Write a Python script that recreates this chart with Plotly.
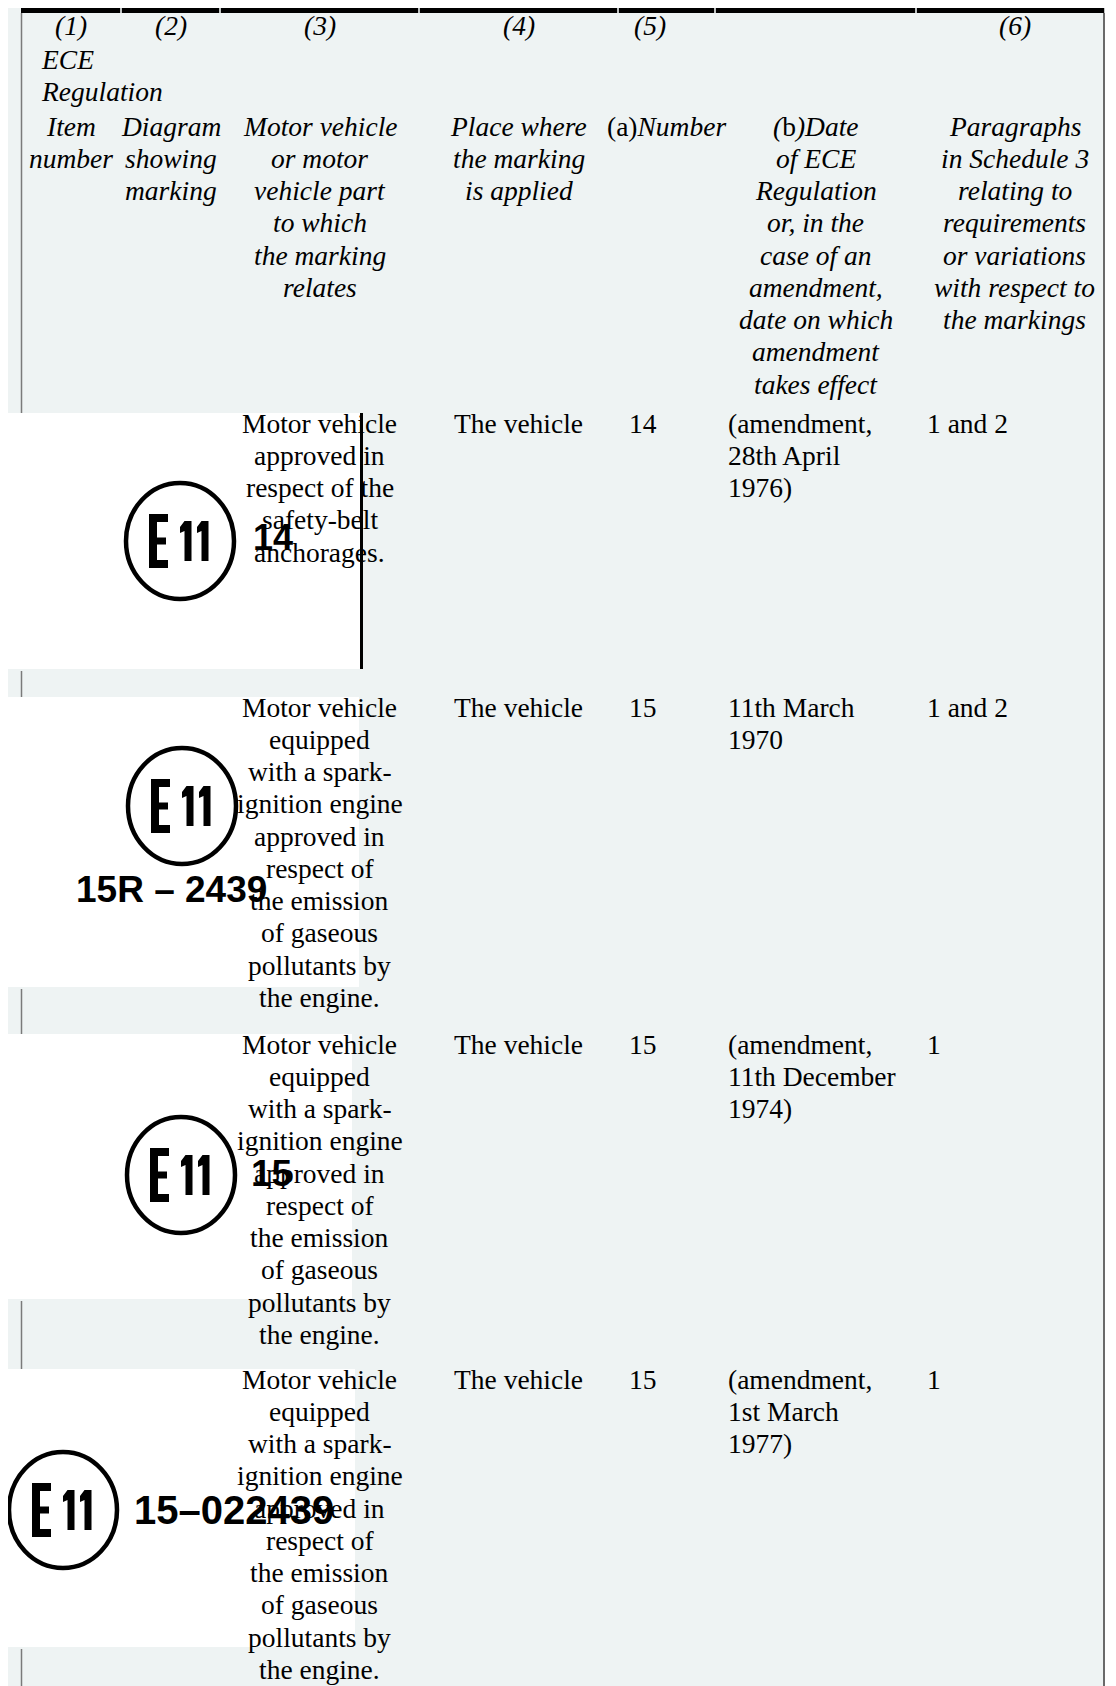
import plotly.graph_objects as go

# ---------------- data (table contents) ----------------
header_numbers = ["(1)", "(2)", "(3)", "(4)", "(5)", "(6)"]
header_group = ["ECE", "Regulation"]
header_item = ["Item", "number"]
header_diagram = ["Diagram", "showing", "marking"]
header_part = ["Motor vehicle", "or motor", "vehicle part", "to which", "the marking", "relates"]
header_place = ["Place where", "the marking", "is applied"]
header_number = ["(a)Number"]
header_date = ["(b)Date", "of ECE", "Regulation", "or, in the", "case of an",
               "amendment,", "date on which", "amendment", "takes effect"]
header_paras = ["Paragraphs", "in Schedule 3", "relating to", "requirements",
                "or variations", "with respect to", "the markings"]

emission_part = ["Motor vehicle", "equipped", "with a spark-", "ignition engine", "approved in",
                 "respect of", "the emission", "of gaseous", "pollutants by", "the engine."]
vehicle_parts = [
    ["Motor vehicle", "approved in", "respect of the", "safety-belt", "anchorages."],
    emission_part,
    emission_part,
    emission_part,
]
places = ["The vehicle", "The vehicle", "The vehicle", "The vehicle"]
reg_numbers = ["14", "15", "15", "15"]
reg_dates = [
    ["(amendment,", "28th April", "1976)"],
    ["11th March", "1970"],
    ["(amendment,", "11th December", "1974)"],
    ["(amendment,", "1st March", "1977)"],
]
schedule_paras = ["1 and 2", "1 and 2", "1", "1"]
marking_numbers = ["14", "15R – 2439", "15", "15–022439"]

# ---------------- layout / style constants ----------------
W, H = 1116, 1686
OFF = 8          # page body margin: figure starts 8px from the window edge
RIGHT = 1105     # right table border (last column edge that stays visible)
BG = "#eef3f3"
SERIF = "'Liberation Serif', 'Times New Roman', serif"
MARK_FONT = "'Liberation Sans', Arial, sans-serif"
FS = 27.5
LH = 32.25

col_edges = [21, 121, 220, 419, 618, 715, 916, 1113]
col_centers = [(col_edges[i] + col_edges[i + 1]) / 2 for i in range(7)]
num_x = [col_centers[0], col_centers[1], col_centers[2], col_centers[3], 650, col_centers[6]]

row_tops = [413, 697, 1034, 1369]
img_bottoms = [669, 987, 1299, 1647]
img_rights = [361, 359, 352, 355]
circles = [(180, 541), (182, 806), (181, 1175), (63, 1510)]
RX, RY = 54, 58
num_pos = [(273, 537), (171, 889), (271, 1173), (234, 1510)]
num_size = [36, 37, 37, 40]

Y_TOP, Y_BOT = OFF, H

shapes = []
ann = []


def add_text(x, y, s, anchor="center", italic=False, font=SERIF, size=FS, weight="normal"):
    ann.append(dict(x=x, y=y, xref="x", yref="y", text=s, showarrow=False,
                    xanchor=anchor, yanchor="middle",
                    font=dict(family=font, size=size, color="#000000",
                              style="italic" if italic else "normal", weight=weight)))


def rect(x0, y0, x1, y1, color, layer="below"):
    shapes.append(dict(type="rect", xref="x", yref="y", x0=x0, y0=y0, x1=x1, y1=y1,
                       fillcolor=color, line=dict(width=0), layer=layer))


def vline(x, y0, y1, color, width):
    shapes.append(dict(type="line", xref="x", yref="y", x0=x, x1=x, y0=y0, y1=y1,
                       line=dict(color=color, width=width), layer="above"))


# background
rect(6, Y_TOP, RIGHT, Y_BOT, BG)
# top thick border segmented at column boundaries
edges = col_edges[:-1] + [RIGHT]
for i in range(7):
    rect(edges[i] + (0.8 if i else 0), Y_TOP, edges[i + 1] - 0.8, Y_TOP + 5,
         "#000000", layer="above")
# left border in header, right border
vline(21.5, Y_TOP + 5, row_tops[0], "#7a7a7a", 1.5)
vline(RIGHT - 1, Y_TOP + 5, Y_BOT, "#6a6a6a", 2)

# ---------------- header ----------------
for x, s in zip(num_x, header_numbers):
    add_text(x, 25, s, italic=True)
add_text(39, 59, header_group[0], anchor="left", italic=True)
add_text(39, 91.5, header_group[1], anchor="left", italic=True)

HY0 = 126


def fmt_header(s):
    if s.startswith("(a)"):
        return "(a)<i>" + s[3:] + "</i>"
    if s.startswith("(b)"):
        return "<i>(</i>b<i>)" + s[3:] + "</i>"
    return "<i>" + s + "</i>"


for ci, lines in [(0, header_item), (1, header_diagram), (2, header_part), (3, header_place),
                  (4, header_number), (5, header_date), (6, header_paras)]:
    for k, s in enumerate(lines):
        add_text(col_centers[ci], HY0 + k * LH, fmt_header(s))


# ---------------- marking diagrams ----------------
def e_path(cx, cy):
    L, R = cx - 31, cx - 12
    T, B = cy - 27, cy + 27
    s, a = 8, 8
    m = cy
    Rm = R - 2
    pts = [(L, T), (R, T), (R, T + a), (L + s, T + a), (L + s, m - 3.5), (Rm, m - 3.5),
           (Rm, m + 3.5), (L + s, m + 3.5), (L + s, B - a), (R, B - a), (R, B), (L, B)]
    return "M " + " L ".join(f"{px},{py}" for px, py in pts) + " Z"


def one_path(c, cy):
    T, B = cy - 20, cy + 20
    pts = [(c - 3.5, T), (c + 3.5, T), (c + 3.5, B), (c - 3.5, B), (c - 3.5, T + 10),
           (c - 8, T + 12), (c - 8, T + 6)]
    return "M " + " L ".join(f"{px},{py}" for px, py in pts) + " Z"


for i in range(4):
    rect(6, row_tops[i], img_rights[i], img_bottoms[i], "#ffffff")
    cx, cy = circles[i]
    shapes.append(dict(type="circle", xref="x", yref="y", x0=cx - RX, x1=cx + RX,
                       y0=cy - RY, y1=cy + RY, line=dict(color="#000000", width=4.5),
                       fillcolor="rgba(0,0,0,0)", layer="above"))
    shapes.append(dict(type="path", xref="x", yref="y", path=e_path(cx, cy),
                       fillcolor="#000000", line=dict(width=0), layer="above"))
    for off in (8, 25):
        shapes.append(dict(type="path", xref="x", yref="y", path=one_path(cx + off, cy),
                           fillcolor="#000000", line=dict(width=0), layer="above"))
    nx, ny = num_pos[i]
    add_text(nx, ny, marking_numbers[i], font=MARK_FONT, size=num_size[i], weight="bold")
    # left border fragment in the gap after the image
    nxt = row_tops[i + 1] if i < 3 else Y_BOT
    vline(21.5, img_bottoms[i] + 2, nxt, "#7a7a7a", 1.5)

# image 1 carries a heavy vertical rule at its right edge
vline(361.5, row_tops[0], img_bottoms[0], "#000000", 3)

# ---------------- body rows ----------------
for i in range(4):
    y0 = row_tops[i] + 10
    for k, s in enumerate(vehicle_parts[i]):
        add_text(col_centers[2], y0 + k * LH, s)
    add_text(col_centers[3], y0, places[i])
    add_text(627, y0, reg_numbers[i], anchor="left")
    for k, s in enumerate(reg_dates[i]):
        add_text(726, y0 + k * LH, s, anchor="left")
    add_text(925, y0, schedule_paras[i], anchor="left")

fig = go.Figure(go.Scatter(x=[OFF, W], y=[Y_TOP, Y_BOT], mode="markers",
                           marker=dict(opacity=0), hoverinfo="skip", showlegend=False))
fig.update_layout(
    width=W - OFF, height=Y_BOT - Y_TOP, margin=dict(l=0, r=0, t=0, b=0),
    paper_bgcolor="#ffffff", plot_bgcolor="rgba(0,0,0,0)",
    xaxis=dict(range=[OFF, W], visible=False, fixedrange=True),
    yaxis=dict(range=[Y_BOT, Y_TOP], visible=False, fixedrange=True),
    shapes=shapes, annotations=ann, showlegend=False,
)
fig.write_html("out.html")
